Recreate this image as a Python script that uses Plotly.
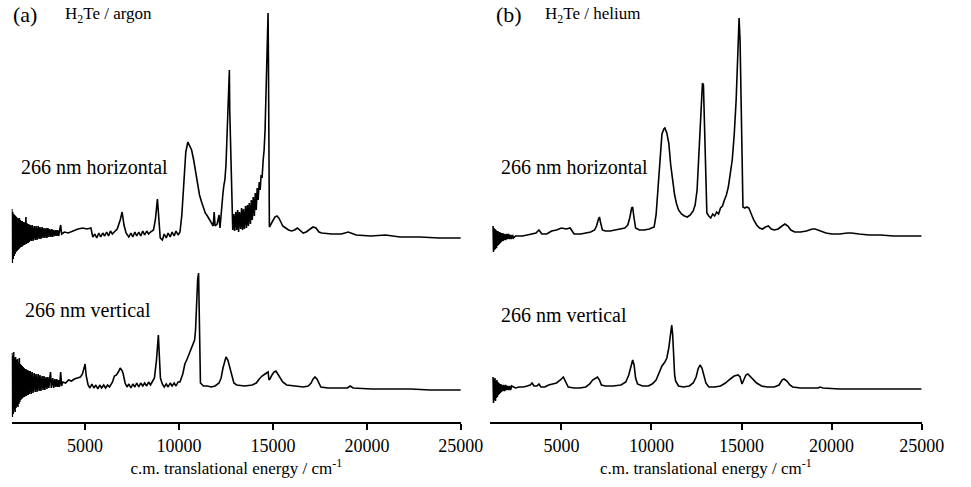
import plotly.graph_objects as go

# ---------------- data (energy in cm^-1, intensity in arbitrary units) ----------------
# Panel (a) H2Te / argon, 266 nm horizontal
a_h_noise_x = [1100, 1125, 1150, 1175, 1200, 1225, 1250, 1275, 1300, 1325,
               1350, 1375, 1400, 1425, 1450, 1475, 1500, 1525, 1550, 1575,
               1600, 1625, 1650, 1675, 1700, 1725, 1750, 1775, 1800, 1825,
               1850, 1875, 1900, 1925, 1950, 1975, 2000, 2030, 2080, 2130,
               2180, 2230, 2290, 2340, 2390, 2440, 2500, 2550, 2600, 2650,
               2710, 2760, 2810, 2860, 2920, 2970, 3020, 3070, 3120, 3180,
               3230, 3280, 3330, 3390, 3440, 3490, 3540, 3590]
a_h_noise_y = [29, -25, 26, -21, 24, -18, 23, -16, 22, -14,
               21, -13, 20, -12, 19, -11, 20, -10, 18, -9,
               17, -9, 17, -8, 16, -7, 16, -7, 15, -6,
               21, -6, 15, -5, 14, -5, 14, -4, 13, -3,
               13, -3, 12, -2, 12, -2, 12, -1, 11, -1,
               11, 0, 10, 0, 10, 0, 10, 1, 9, 1,
               9, 1, 8, 2, 8, 2, 8, 2]
a_h_x = [3700, 3750, 3900, 4100, 4360, 4620, 4880, 5100, 5310, 5410,
         5520, 5620, 5730, 5830, 5940, 6040, 6150, 6250, 6350, 6450,
         6550, 6710, 6870, 6970, 7070, 7180, 7330, 7440, 7540, 7650,
         7750, 7860, 7960, 8070, 8170, 8280, 8380, 8480, 8640, 8740,
         8850, 8900, 9000, 9110, 9210, 9320, 9420, 9530, 9630, 9740,
         9840, 9950, 10050, 10150, 10260, 10360, 10470, 10570, 10670, 10780,
         10880, 10990, 11090, 11200, 11300, 11400, 11510, 11610, 11720, 11820,
         11870, 11920, 12030, 12130, 12180, 12290, 12340, 12390, 12440, 12500,
         12550, 12600, 12650, 12680, 12700, 12760, 12810, 12860, 12910, 12960,
         13020, 13070, 13120, 13170, 13220, 13280, 13330, 13380, 13430, 13480,
         13540, 13590, 13640, 13690, 13740, 13800, 13850, 13900, 13950, 14010,
         14060, 14110, 14160, 14210, 14270, 14320, 14370, 14420, 14480, 14530,
         14580, 14630, 14680, 14740, 14760, 14790, 14810, 14900, 15000, 15100,
         15210, 15310, 15420, 15520, 15680, 15830, 15990, 16150, 16300, 16460,
         16610, 16770, 16980, 17130, 17290, 17450, 17600, 18120, 18640, 19010,
         19430, 20210, 20990, 21770, 22810, 23850, 25000]
a_h_y = [13, 4, 6, 5, 7, 9, 10, 9, 10, 1,
         4, 0, 5, 1, 5, 2, 6, 2, 7, 4,
         6, 9, 18, 26, 13, 5, 1, 5, 1, 6,
         2, 6, 2, 7, 3, 7, 4, 6, 8, 18,
         39, 23, 0, -2, 4, 0, 5, 1, 6, 2,
         7, 3, 6, 23, 63, 86, 96, 92, 88, 78,
         66, 53, 43, 36, 30, 25, 22, 19, 16, 12,
         26, 12, 14, 23, 10, 38, 45, 53, 58, 73,
         98, 138, 166, 168, 128, 68, 23, 8, 24, 7,
         26, 8, 28, 6, 26, 9, 30, 8, 29, 9,
         32, 10, 33, 12, 35, 14, 38, 18, 41, 22,
         45, 28, 50, 38, 56, 48, 63, 60, 78, 88,
         108, 138, 183, 225, 178, 58, 11, 14, 18, 21,
         22, 20, 16, 12, 10, 8, 7, 8, 10, 7,
         5, 6, 9, 11, 10, 6, 5, 4, 4, 6,
         3, 2, 3, 1, 1, 0, 0]

# Panel (a) H2Te / argon, 266 nm vertical
a_v_noise_x = [1100, 1125, 1150, 1175, 1200, 1225, 1250, 1275, 1300, 1325,
               1350, 1375, 1400, 1425, 1450, 1475, 1500, 1525, 1550, 1575,
               1600, 1625, 1650, 1675, 1700, 1725, 1750, 1775, 1800, 1825,
               1850, 1875, 1900, 1925, 1950, 1975, 2000, 2030, 2080, 2130,
               2180, 2230, 2290, 2340, 2390, 2440, 2500, 2550, 2600, 2650,
               2710, 2760, 2810, 2860, 2920, 2970, 3020, 3070, 3120, 3160,
               3200, 3280, 3330, 3390, 3440, 3490, 3540, 3590, 3640, 3700,
               3750]
a_v_noise_y = [36, -28, 33, -25, 37, -21, 31, -23, 32, -19,
               29, -17, 30, -18, 27, -15, 31, -13, 25, -11,
               24, -10, 23, -9, 22, -8, 21, -8, 20, -7,
               20, -7, 19, -6, 19, -6, 18, -5, 18, -5,
               17, -4, 16, -3, 15, -3, 15, -2, 14, -2,
               13, -1, 13, -1, 12, 0, 12, 1, 11, 17,
               1, 11, 1, 10, 2, 10, 2, 9, 2, 17,
               3]
a_v_x = [3800, 3960, 4120, 4280, 4430, 4590, 4750, 4860, 4960, 5000,
         5060, 5160, 5260, 5360, 5470, 5570, 5680, 5780, 5880, 5990,
         6090, 6200, 6300, 6460, 6560, 6670, 6770, 6870, 6980, 7030,
         7130, 7230, 7330, 7440, 7540, 7650, 7750, 7860, 7960, 8070,
         8170, 8280, 8380, 8480, 8540, 8690, 8800, 8850, 8900, 8950,
         9010, 9110, 9210, 9320, 9420, 9530, 9630, 9740, 9840, 9950,
         10050, 10200, 10310, 10410, 10520, 10620, 10730, 10830, 10880, 10930,
         10990, 11040, 11070, 11090, 11140, 11300, 11510, 11720, 11920, 12130,
         12240, 12340, 12440, 12500, 12600, 12710, 12810, 12920, 13070, 13490,
         13900, 14110, 14270, 14420, 14580, 14680, 14740, 14790, 14840, 14950,
         15050, 15160, 15260, 15370, 15520, 15730, 16100, 16360, 16620, 16880,
         17030, 17140, 17240, 17340, 17450, 17550, 17920, 18440, 18960, 19110,
         19270, 20250, 21290, 22330, 23370, 25000]
a_v_y = [7, 6, 9, 8, 10, 11, 12, 15, 21, 25,
         13, 4, 1, 5, 1, 4, 0, 4, 1, 4,
         1, 4, 2, 7, 13, 14, 17, 21, 18, 15,
         6, 2, 5, 1, 5, 2, 6, 2, 6, 3,
         6, 3, 7, 4, 6, 11, 29, 44, 54, 34,
         11, 5, 2, 5, 2, 6, 3, 6, 3, 7,
         7, 15, 25, 29, 34, 39, 43, 49, 59, 89,
         109, 116, 79, 19, 6, 3, 3, 2, 3, 6,
         11, 21, 29, 32, 29, 21, 12, 6, 4, 3,
         4, 6, 10, 13, 15, 16, 17, 9, 10, 14,
         17, 18, 15, 11, 7, 4, 3, 3, 2, 3,
         6, 10, 12, 10, 5, 2, 1, 1, 1, 3,
         1, 0, 0, 0, -1, -1]

# Panel (b) H2Te / helium, 266 nm horizontal
b_h_noise_x = [1206, 1233, 1260, 1287, 1314, 1341, 1368, 1396, 1423, 1450,
               1477, 1504, 1531, 1558, 1585, 1612, 1640, 1667, 1694, 1721,
               1748, 1775, 1802, 1829, 1856, 1911, 1965, 2019, 2073, 2127,
               2181, 2236, 2290, 2344]
b_h_noise_y = [10, -16, 8, -14, 7, -13, 6, -12, 5, -10,
               5, -9, 4, -8, 4, -7, 3, -6, 3, -5,
               3, -5, 2, -4, 2, -4, 2, -3, 2, -3,
               1, -3, 1, -2]
b_h_x = [2453, 2561, 2832, 3103, 3374, 3591, 3753, 3916, 4187, 4458,
         4729, 5000, 5271, 5488, 5705, 6084, 6355, 6626, 6843, 6951,
         7060, 7114, 7168, 7276, 7439, 7710, 7981, 8252, 8523, 8686,
         8794, 8902, 8957, 9011, 9119, 9336, 9607, 9878, 10149, 10257,
         10366, 10474, 10583, 10691, 10745, 10854, 10962, 11070, 11179, 11287,
         11396, 11504, 11667, 11829, 11992, 12154, 12317, 12425, 12534, 12642,
         12751, 12832, 12886, 12967, 13022, 13076, 13184, 13293, 13401, 13509,
         13618, 13726, 13835, 13943, 14052, 14160, 14268, 14377, 14485, 14594,
         14702, 14783, 14865, 14919, 14973, 15027, 15081, 15190, 15298, 15407,
         15515, 15678, 15840, 16003, 16165, 16328, 16490, 16653, 16816, 17032,
         17249, 17412, 17574, 17737, 17954, 18279, 18604, 18929, 19092, 19363,
         19688, 20013, 20447, 20881, 21097, 21531, 22073, 22723, 23428, 24241,
         25000]
b_h_y = [0, 0, 0, 1, 2, 3, 6, 2, 2, 5,
         6, 8, 7, 8, 2, 2, 3, 4, 6, 10,
         17, 19, 14, 6, 5, 5, 6, 7, 8, 11,
         18, 28, 29, 21, 8, 6, 6, 7, 9, 21,
         51, 81, 102, 107, 108, 103, 93, 71, 54, 41,
         32, 26, 22, 20, 19, 21, 25, 31, 46, 91,
         131, 153, 151, 86, 36, 23, 20, 18, 22, 20,
         24, 22, 28, 30, 36, 41, 49, 61, 76, 101,
         136, 176, 218, 196, 126, 56, 29, 28, 29, 28,
         23, 16, 11, 8, 7, 9, 10, 7, 6, 7,
         10, 12, 10, 6, 4, 4, 5, 7, 7, 5,
         3, 2, 2, 3, 3, 2, 1, 1, 0, 0,
         0]

# Panel (b) H2Te / helium, 266 nm vertical
b_v_noise_x = [1206, 1233, 1260, 1287, 1314, 1341, 1368, 1396, 1423, 1450,
               1477, 1504, 1531, 1558, 1585, 1612, 1640, 1667, 1694, 1748,
               1802, 1856, 1911, 1965, 2019, 2073, 2127, 2181, 2236]
b_v_noise_y = [12, -14, 10, -11, 11, -12, 8, -9, 9, -8,
               7, -6, 6, -5, 5, -4, 5, -3, 4, -2,
               4, -2, 4, -1, 3, -1, 3, -1, 3]
b_v_x = [2453, 2669, 2886, 3103, 3266, 3374, 3482, 3645, 3753, 3862,
         4079, 4295, 4512, 4729, 4946, 5108, 5217, 5379, 5705, 6030,
         6355, 6572, 6734, 6897, 7005, 7114, 7222, 7439, 7873, 8306,
         8577, 8740, 8848, 8957, 9038, 9119, 9228, 9499, 9824, 10041,
         10257, 10420, 10583, 10745, 10854, 10962, 11016, 11070, 11125, 11179,
         11233, 11287, 11341, 11504, 11775, 12100, 12317, 12480, 12588, 12696,
         12805, 12913, 13022, 13184, 13509, 13835, 14106, 14377, 14594, 14811,
         14919, 15027, 15136, 15244, 15353, 15461, 15624, 15840, 16111, 16436,
         16816, 17087, 17249, 17358, 17520, 17683, 17845, 18279, 18821, 19255,
         19363, 19526, 20447, 21531, 22615, 23699, 25000]
b_v_y = [1, 2, 2, 3, 4, 6, 3, 3, 5, 2,
         2, 4, 5, 6, 9, 12, 8, 2, 1, 1,
         2, 5, 9, 11, 12, 9, 4, 3, 3, 4,
         7, 14, 23, 29, 24, 11, 5, 3, 3, 5,
         9, 16, 23, 27, 31, 41, 51, 61, 64, 54,
         29, 14, 8, 3, 2, 3, 6, 12, 20, 24,
         21, 13, 6, 2, 2, 3, 6, 10, 13, 14,
         12, 5, 10, 14, 15, 13, 9, 6, 3, 2,
         2, 4, 9, 10, 8, 4, 2, 1, 1, 1,
         2, 1, 0, 0, 0, 0, 0]

# vertical display offsets of the stacked spectra
offset_a_h, offset_a_v = 184, 33
offset_b_h, offset_b_v = 186, 33

tick_vals = [5000, 10000, 15000, 20000, 25000]
tick_text = ["5000", "10000", "15000", "20000", "25000"]
x_title = "c.m. translational energy / cm<sup>-1</sup>"

# ---------------- figure ----------------
W, H = 971, 487
MB = 65
PH = H - MB
SERIF = "Liberation Serif, Times New Roman, serif"

fig = go.Figure()


def add_trace(xs, ys, off, xa, ya):
    assert len(xs) == len(ys), (len(xs), len(ys))
    fig.add_trace(go.Scatter(
        x=xs, y=[v + off for v in ys], mode="lines",
        line=dict(color="black", width=1.6),
        xaxis=xa, yaxis=ya, showlegend=False, hoverinfo="skip"))


add_trace(a_h_noise_x + a_h_x, a_h_noise_y + a_h_y, offset_a_h, "x", "y")
add_trace(a_v_noise_x + a_v_x, a_v_noise_y + a_v_y, offset_a_v, "x", "y")
add_trace(b_h_noise_x + b_h_x, b_h_noise_y + b_h_y, offset_b_h, "x2", "y2")
add_trace(b_v_noise_x + b_v_x, b_v_noise_y + b_v_y, offset_b_v, "x2", "y2")

xcommon = dict(
    showline=True, linecolor="black", linewidth=2,
    ticks="outside", ticklen=6, tickwidth=1.5, tickcolor="black",
    tickvals=tick_vals, ticktext=tick_text,
    showgrid=False, zeroline=False,
    tickfont=dict(family=SERIF, size=18, color="black"),
    title=dict(text=x_title, font=dict(family=SERIF, size=17, color="black"), standoff=2),
    fixedrange=True,
)
ycommon = dict(range=[0, PH], visible=False, showgrid=False, zeroline=False, fixedrange=True)

fig.update_layout(
    width=W, height=H,
    margin=dict(l=0, r=0, t=0, b=MB, pad=0),
    paper_bgcolor="white", plot_bgcolor="white",
    xaxis=dict(domain=[12 / W, 472 / W], range=[1094, 25000], anchor="y", **xcommon),
    yaxis=dict(domain=[0, 1], anchor="x", **ycommon),
    xaxis2=dict(domain=[502 / W, 944 / W], range=[1043, 25000], anchor="y2", **xcommon),
    yaxis2=dict(domain=[0, 1], anchor="x2", **ycommon),
)


def py(pix):
    return (PH - pix) / PH


labels = [
    ("(a)", 12, 15, 22),
    ("H<sub>2</sub>Te / argon", 66, 15, 17),
    ("266 nm horizontal", 20, 167, 20),
    ("266 nm vertical", 25, 310, 20),
    ("(b)", 507, 15, 22),
    ("H<sub>2</sub>Te / helium", 557, 15, 17),
    ("266 nm horizontal", 512, 167, 20),
    ("266 nm vertical", 512, 315, 20),
]
for text, xp, ypix, size in labels:
    fig.add_annotation(
        text=text, xref="paper", yref="paper", x=xp / W, y=py(ypix),
        xanchor="left", yanchor="middle", showarrow=False, borderpad=0,
        font=dict(family=SERIF, size=size, color="black"))

fig.write_html("out.html")
